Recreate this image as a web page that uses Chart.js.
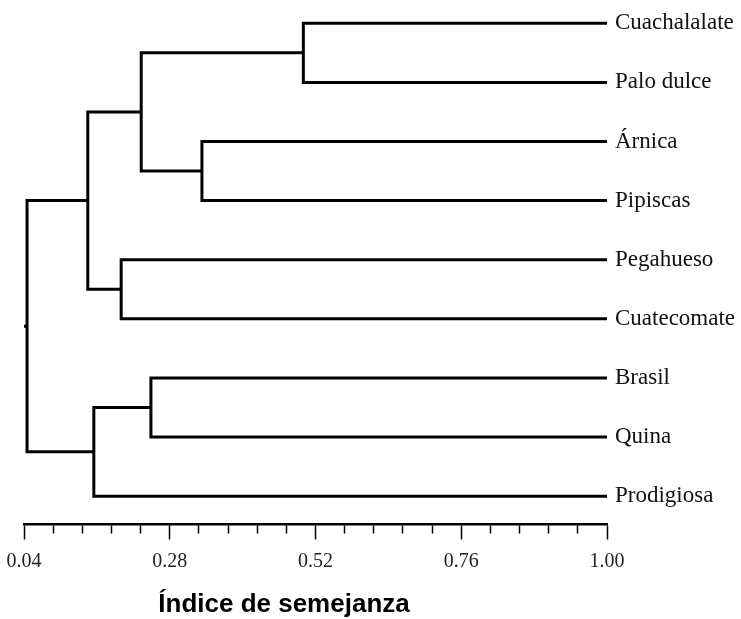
<!DOCTYPE html>
<html>
<head>
<meta charset="utf-8">
<script src="https://cdn.jsdelivr.net/npm/chart.js@4.4.1/dist/chart.umd.min.js"></script>
<style>
  html, body { margin: 0; padding: 0; background: #fff; }
  #wrap { width: 741px; height: 619px; position: relative; }
</style>
</head>
<body>
<div id="wrap"><canvas id="dendro"></canvas></div>
<script>
// hojas, de arriba hacia abajo
var leaves = ['Cuachalalate', 'Palo dulce', 'Árnica', 'Pipiscas', 'Pegahueso', 'Cuatecomate', 'Brasil', 'Quina', 'Prodigiosa'];
// uniones: nodo 9 en adelante (0-8 son hojas)
var joinLeft = [0, 2, 4, 6, 9, 13, 12, 14];
var joinRight = [1, 3, 5, 7, 10, 11, 8, 15];
var joinSimil = [0.50, 0.333, 0.20, 0.249, 0.233, 0.145, 0.155, 0.045];
var leafSimil = 1.00;
var rootStub = 0.04;
var majorTicks = ['0.04', '0.28', '0.52', '0.76', '1.00'];
var minorPerMajor = 5;

var axisTitle = 'Índice de semejanza';

// posicion (x, y) de cada nodo
var nodeX = leaves.map(function () { return leafSimil; });
var nodeY = leaves.map(function (n, i) { return i; });
var datasets = [];
joinLeft.forEach(function (a, k) {
    var b = joinRight[k];
    var h = joinSimil[k];
    datasets.push({
        data: [
            { x: nodeX[a], y: nodeY[a] },
            { x: h, y: nodeY[a] },
            { x: h, y: nodeY[b] },
            { x: nodeX[b], y: nodeY[b] }
        ]
    });
    nodeX.push(h);
    nodeY.push((nodeY[a] + nodeY[b]) / 2);
});
var root = nodeX.length - 1;
datasets.push({ data: [{ x: nodeX[root], y: nodeY[root] }, { x: rootStub, y: nodeY[root] }] });

datasets.forEach(function (d) {
    d.showLine = true;
    d.borderColor = '#000';
    d.borderWidth = 3;
    d.pointRadius = 0;
    d.tension = 0;
    d.borderJoinStyle = 'miter';
    d.clip = 4;
});

// valores de las marcas del eje x (mayores + menores)
var tickValues = [];
for (var i = 0; i < majorTicks.length - 1; i++) {
    var v0 = parseFloat(majorTicks[i]), v1 = parseFloat(majorTicks[i + 1]);
    for (var j = 0; j < minorPerMajor; j++) tickValues.push(v0 + (v1 - v0) * j / minorPerMajor);
}
tickValues.push(parseFloat(majorTicks[majorTicks.length - 1]));

var titlePlugin = {
    id: 'axisTitle',
    afterDraw: function (chart) {
        var ctx = chart.ctx;
        ctx.save();
        ctx.font = 'bold 26px "Liberation Sans", Arial, sans-serif';
        ctx.fillStyle = '#000';
        ctx.textAlign = 'center';
        ctx.textBaseline = 'alphabetic';
        ctx.fillText(axisTitle, 284, 612);
        ctx.restore();
    }
};

document.addEventListener("DOMContentLoaded", function () {
    var ctx = document.getElementById('dendro').getContext('2d');
    var chart = new Chart(ctx, {
        type: 'scatter',
        data: { datasets: datasets },
        plugins: [titlePlugin],
        options: {
            responsive: true,
            maintainAspectRatio: false,
            animation: false,
            layout: { padding: { left: 24, top: 4, right: 0, bottom: 39 } },
            plugins: {
                legend: { display: false },
                tooltip: { enabled: false }
            },
            scales: {
                x: {
                    type: 'linear',
                    min: 0.04,
                    max: 1.00,
                    afterBuildTicks: function (scale) {
                        scale.ticks = tickValues.map(function (v) { return { value: v }; });
                    },
                    border: { display: true, color: '#000', width: 2.5 },
                    grid: {
                        drawOnChartArea: false,
                        drawTicks: true,
                        tickLength: 20,
                        tickColor: '#000',
                        tickWidth: 1.5,
                        // marcas mayores 14px, menores 8px
                        tickBorderDash: function (c) {
                            return c.index % minorPerMajor === 0 ? [14, 40] : [8, 40];
                        }
                    },
                    ticks: {
                        autoSkip: false,
                        maxRotation: 0,
                        padding: 6,
                        color: '#222',
                        font: { family: '"Liberation Serif", "Times New Roman", serif', size: 20 },
                        callback: function (value, index) {
                            return index % minorPerMajor === 0 ? majorTicks[index / minorPerMajor] : '';
                        }
                    }
                },
                y: {
                    type: 'linear',
                    position: 'right',
                    reverse: true,
                    min: -0.16,
                    max: 8.47,
                    afterBuildTicks: function (scale) {
                        scale.ticks = leaves.map(function (n, i) { return { value: i }; });
                    },
                    afterFit: function (scale) { scale.width = 134; },
                    border: { display: false },
                    grid: { display: false },
                    ticks: {
                        autoSkip: false,
                        padding: 0,
                        color: '#111',
                        font: { family: '"Liberation Serif", "Times New Roman", serif', size: 23 },
                        callback: function (value) { return leaves[value]; }
                    }
                }
            }
        }
    });
});
</script>
</body>
</html>
